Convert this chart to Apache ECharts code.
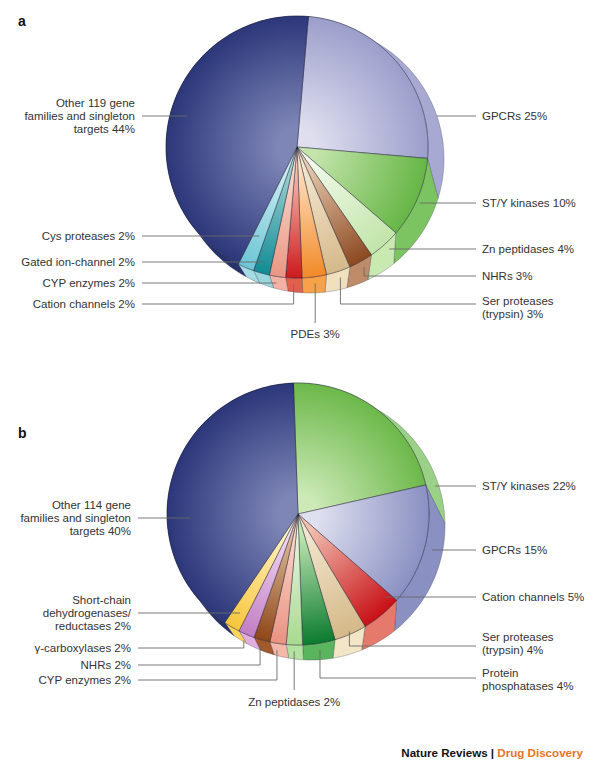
<!DOCTYPE html>
<html>
<head>
<meta charset="utf-8">
<script src="https://cdn.jsdelivr.net/npm/echarts@6/dist/echarts.min.js"></script>
<style>
  html, body { margin: 0; padding: 0; background: #fff; }
  #chart { width: 600px; height: 772px; }
</style>
</head>
<body>
<div id="chart"></div>
<script>
// panel a: drug targets (approved drugs)
const catsA = ["GPCRs", "ST/Y kinases", "Zn peptidases", "NHRs", "Ser proteases\n(trypsin)", "PDEs",
  "Cation channels", "CYP enzymes", "Gated ion-channel", "Cys proteases",
  "Other 119 gene\nfamilies and singleton\ntargets"];
const valsA = [25, 10, 4, 3, 3, 3, 2, 2, 2, 2, 44];

// panel b
const catsB = ["ST/Y kinases", "GPCRs", "Cation channels", "Ser proteases\n(trypsin)", "Protein\nphosphatases",
  "Zn peptidases", "CYP enzymes", "NHRs", "γ-carboxylases", "Short-chain\ndehydrogenases/\nreductases",
  "Other 114 gene\nfamilies and singleton\ntargets"];
const valsB = [22, 15, 5, 4, 4, 2, 2, 2, 2, 2, 40];

// [inner, outer, side] colours per slice
const colorsA = [
  ["#dedeee", "#9c9ecb", "#a7a9d2"],
  ["#c4e4ac", "#66b646", "#7cc462"],
  ["#f2f9ea", "#c2e5aa", "#c8e9b0"],
  ["#e8cdb2", "#8c4820", "#bf8c6a"],
  ["#f4e8d0", "#d6b98a", "#f0e0bc"],
  ["#fde3c6", "#f28a28", "#f7a24a"],
  ["#f6c6b6", "#cc1a1e", "#e0604c"],
  ["#f9dace", "#ea9684", "#f3b2a4"],
  ["#a4d5d5", "#128b95", "#9ad6de"],
  ["#d2eff4", "#6cc5d5", "#a4dce6"],
  ["#7e86b6", "#2c377a", "#27326c"]
];
const colorsB = [
  ["#cce9b6", "#6cb84a", "#9bd186"],
  ["#dfe0ef", "#8a90c2", "#8a90c2"],
  ["#f2beb0", "#c81016", "#e57a6c"],
  ["#f3e7ce", "#d4b888", "#f3e6c6"],
  ["#c2e7b4", "#0b7b2e", "#5bb45e"],
  ["#e8f5e0", "#a8d990", "#b4e2a0"],
  ["#fad7cb", "#e99282", "#f4b8aa"],
  ["#e0c0a0", "#8e4618", "#a25a2c"],
  ["#f3dcf3", "#c27ec4", "#e2aee2"],
  ["#fff2c6", "#f8c63c", "#fbd45a"],
  ["#7e86b6", "#2c377a", "#27326c"]
];

// label layout: [side, text y, line y, anchor mode, radius factor]
const labelsA = [
  ["right", 116, 116, "h", 1.095],
  ["right", 203, 203, "h", 1.03],
  ["right", 249, 249, "h", 1.05],
  ["right", 276, 276, "e", 1.05],
  ["right", 307, 304, "e", 1.05],
  ["bottom", 334, 323, "e", 1.05],
  ["left", 304, 304, "e", 1.05],
  ["left", 283, 283, "e", 1.05],
  ["left", 262, 262, "r", 0],
  ["left", 236, 236, "r", 0],
  ["left", 116, 116, "h", 0.87]
];
const labelsB = [
  ["right", 486, 486, "h", 1.07],
  ["right", 550, 550, "h", 1.06],
  ["right", 597, 597, "h", 0.918],
  ["right", 643, 646, "e", 0.98],
  ["right", 679, 678, "e", 1.05],
  ["bottom", 702, 690, "e", 1.05],
  ["left", 680, 680, "e", 1.05],
  ["left", 665, 665, "e", 1.05],
  ["left", 648, 648, "e", 1.05],
  ["left", 613, 613, "r", 0],
  ["left", 518, 518, "h", 0.825]
];

const R = 131;          // face radius
const RIM_DX = 13, RIM_DY = 12, RIM_R = 134;
const RIGHT_TEXT = 482, RIGHT_LINE = 476;
const FONT = '11.5px "Liberation Sans", Arial, Helvetica, sans-serif';

const pies = [
  { cats: catsA, vals: valsA, colors: colorsA, labels: labelsA, cx: 297, cy: 147, start: 5, leftX: 135 },
  { cats: catsB, vals: valsB, colors: colorsB, labels: labelsB, cx: 298, cy: 514, start: -2, leftX: 131 }
];

function cumulate(vals) {
  const total = vals.reduce((a, b) => a + b, 0);
  let acc = 0;
  return vals.map((v) => {
    const s = acc;
    acc += v;
    return [s / total, acc / total, v];
  });
}

// points along an arc, angles in degrees clockwise from 12 o'clock
function arc(cx, cy, r, a0, a1) {
  const n = Math.max(2, Math.ceil(Math.abs(a1 - a0) / 2));
  const pts = [];
  for (let k = 0; k <= n; k++) {
    const a = (a0 + (a1 - a0) * k / n) * Math.PI / 180;
    pts.push([cx + r * Math.sin(a), cy - r * Math.cos(a)]);
  }
  return pts;
}

// rim edges lean downwards on the right, as in a tilted disc
function skew(a) {
  return a + 5 + 7 * Math.sin(a * Math.PI / 180);
}

function sideItem(pie) {
  return function (params, api) {
    const a0 = pie.start + api.value(0) * 360;
    const a1 = pie.start + api.value(1) * 360;
    const inner = arc(pie.cx, pie.cy, R, a0, a1);
    const outer = arc(pie.cx + RIM_DX, pie.cy + RIM_DY, RIM_R, skew(a0), skew(a1)).reverse();
    return {
      type: "polygon",
      shape: { points: inner.concat(outer).map((p) => api.coord(p)) },
      style: { fill: pie.colors[params.dataIndex][2], stroke: "rgba(30,30,50,0.5)", lineWidth: 0.5 }
    };
  };
}

function faceItem(pie) {
  return function (params, api) {
    const a0 = pie.start + api.value(0) * 360;
    const a1 = pie.start + api.value(1) * 360;
    const c = api.coord([pie.cx, pie.cy]);
    const rad = api.coord([pie.cx + R, pie.cy])[0] - c[0];
    const pal = pie.colors[params.dataIndex];
    const pts = [[pie.cx, pie.cy]].concat(arc(pie.cx, pie.cy, R, a0, a1)).map((p) => api.coord(p));
    return {
      type: "polygon",
      shape: { points: pts },
      style: {
        fill: {
          type: "radial", x: c[0], y: c[1], r: rad, global: true,
          colorStops: [{ offset: 0, color: pal[0] }, { offset: 0.15, color: pal[0] }, { offset: 1, color: pal[1] }]
        },
        stroke: "rgba(25,25,45,0.75)",
        lineWidth: 0.6
      }
    };
  };
}

function labelItem(pie) {
  return function (params, api) {
    const i = params.dataIndex;
    const [side, ty, ly, mode, rho] = pie.labels[i];
    const mid = (pie.start + (api.value(0) + api.value(1)) * 180) * Math.PI / 180;
    const ux = Math.sin(mid), uy = -Math.cos(mid);
    let px, py;
    if (mode === "h") {
      const dy = ly - pie.cy, d = rho * R;
      px = pie.cx + (side === "left" ? -1 : 1) * Math.sqrt(d * d - dy * dy);
      py = ly;
    } else if (mode === "r") {
      const t = Math.min((ly - pie.cy) / uy, 1.05 * R);
      px = pie.cx + t * ux;
      py = pie.cy + t * uy;
    } else {
      px = pie.cx + rho * R * ux;
      py = pie.cy + rho * R * uy;
    }
    if (Math.abs(py - ly) < 3) py = ly;
    let line, tx, align;
    if (side === "left") {
      line = [[pie.leftX + 7, ly], [px, ly], [px, py]];
      tx = pie.leftX; align = "right";
    } else if (side === "right") {
      line = [[RIGHT_LINE, ly], [px, ly], [px, py]];
      tx = RIGHT_TEXT; align = "left";
    } else {
      line = [[px, ly], [px, py]];
      tx = px; align = "center";
    }
    const tp = api.coord([tx, ty]);
    return {
      type: "group",
      children: [
        {
          type: "polyline",
          shape: { points: line.map((p) => api.coord(p)) },
          style: { stroke: "#6a6a6a", lineWidth: 0.9, fill: null }
        },
        {
          type: "text",
          x: tp[0], y: tp[1],
          style: {
            text: pie.cats[i] + " " + api.value(2) + "%",
            font: FONT, fill: "#333", lineHeight: 13,
            align: align, verticalAlign: "middle"
          }
        }
      ]
    };
  };
}

const series = [];
pies.forEach((pie) => {
  const data = cumulate(pie.vals);
  series.push({ type: "custom", renderItem: sideItem(pie), data: data, z: 1, silent: true });
  series.push({ type: "custom", renderItem: faceItem(pie), data: data, z: 2, silent: true });
  series.push({ type: "custom", renderItem: labelItem(pie), data: data, z: 3, silent: true });
});

const chart = echarts.init(document.getElementById("chart"), null, { renderer: "svg" });
const option = {
  animation: false,
  backgroundColor: "#fff",
  grid: { left: 0, right: 0, top: 0, bottom: 0 },
  xAxis: { type: "value", min: 0, max: 600, show: false },
  yAxis: { type: "value", min: 0, max: 772, inverse: true, show: false },
  graphic: [
    { type: "text", x: 18, y: 21, style: { text: "a", font: 'bold 14px "Liberation Sans", Arial, sans-serif', fill: "#111", verticalAlign: "middle" } },
    { type: "text", x: 18, y: 433, style: { text: "b", font: 'bold 14px "Liberation Sans", Arial, sans-serif', fill: "#111", verticalAlign: "middle" } },
    {
      type: "text", x: 583, y: 752,
      style: {
        text: "{n|Nature Reviews | }{d|Drug Discovery}",
        align: "right", verticalAlign: "middle",
        rich: {
          n: { font: 'bold 11.6px "Liberation Sans", Arial, sans-serif', fill: "#111" },
          d: { font: 'bold 11.6px "Liberation Sans", Arial, sans-serif', fill: "#e8731e" }
        }
      }
    }
  ],
  series: series
};
option && chart.setOption(option);
window.addEventListener("resize", function () {
  chart.resize();
});
</script>
</body>
</html>
